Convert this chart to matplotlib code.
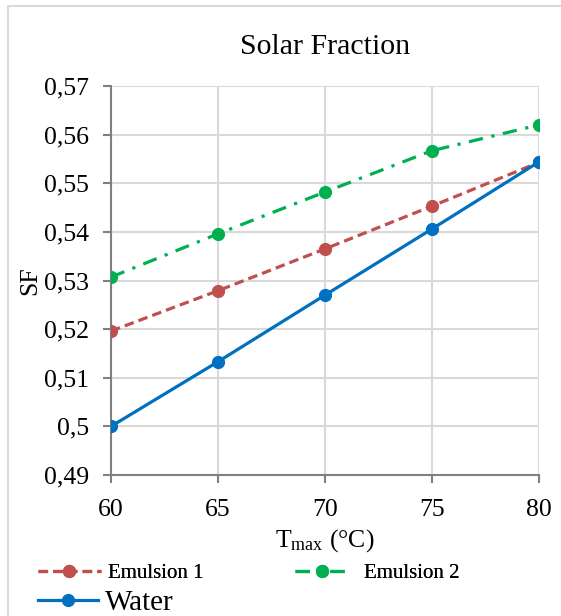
import matplotlib
matplotlib.use("Agg")
import matplotlib.pyplot as plt
from matplotlib.patches import Rectangle
from matplotlib.ticker import FuncFormatter

plt.rcParams['font.family'] = ['Liberation Serif', 'DejaVu Serif']
plt.rcParams['mathtext.fontset'] = 'custom'
plt.rcParams['mathtext.rm'] = 'Liberation Serif'
plt.rcParams['mathtext.it'] = 'Liberation Serif:italic'

t_max = [60, 65, 70, 75, 80]
emulsion1 = [0.5196, 0.5279, 0.5365, 0.5453, 0.5543]
emulsion2 = [0.5307, 0.5396, 0.5482, 0.5567, 0.5620]
water = [0.5000, 0.5133, 0.5270, 0.5406, 0.5544]
y_ticks = [0.49, 0.50, 0.51, 0.52, 0.53, 0.54, 0.55, 0.56, 0.57]
x_ticks = [60, 65, 70, 75, 80]

W, H = 561, 616
fig = plt.figure(figsize=(W / 100, H / 100), dpi=100)
ax = fig.add_axes([111 / W, 1 - 475 / H, (539 - 111) / W, (475 - 86) / H])

# outer chart frame
fig.patches.append(Rectangle((8 / W, -0.05), 1.2, 1 - 6 / H + 0.05, transform=fig.transFigure,
                             fill=False, edgecolor='#D9D9D9', linewidth=1.5, zorder=0))

lw = 2.3
l_e1, = ax.plot(t_max, emulsion1, color='#C0504D', linestyle=(0, (3, 1.6)), linewidth=lw,
                marker='o', markersize=8.5, label='Emulsion 1', zorder=3)
l_w, = ax.plot(t_max, water, color='#0070C0', linestyle='-', linewidth=lw,
               marker='o', markersize=8.5, label='Water', zorder=4)
l_e2, = ax.plot(t_max, emulsion2, color='#00B050', linestyle=(0, (4.5, 2.7, 1, 2.7)), linewidth=lw,
                marker='o', markersize=8.5, label='Emulsion 2', zorder=3)

ax.set_xlim(60, 80)
ax.set_ylim(0.49, 0.57)
ax.set_xticks(x_ticks)
ax.set_yticks(y_ticks)
ax.yaxis.set_major_formatter(FuncFormatter(lambda v, p: ('%g' % round(v, 2)).replace('.', ',')))
ax.grid(True, color='#D9D9D9', linewidth=1.5)
ax.set_axisbelow(True)
for s in ['top', 'right']:
    ax.spines[s].set_visible(False)
for s in ['left', 'bottom']:
    ax.spines[s].set_color('#808080')
    ax.spines[s].set_linewidth(1.5)
ax.tick_params(axis='both', direction='out', length=6, width=1.5, color='#808080',
               labelsize=18.5)
ax.tick_params(axis='y', pad=10)
ax.tick_params(axis='x', pad=11)
ax.set_title('Solar Fraction', fontsize=21.5, pad=23)
ax.set_xlabel(r'T$_{\mathrm{max}}$ (°C)', fontsize=18.5, labelpad=5)
ax.set_ylabel('SF', fontsize=18.5, labelpad=2)

def put_legend(line, x0, yc, fs, hl, htp):
    lg = fig.legend(handles=[line], loc='center left', bbox_to_anchor=(x0 / W, 1 - yc / H),
                    frameon=False, fontsize=fs, handlelength=hl, handletextpad=htp,
                    borderpad=0, borderaxespad=0)
    return lg

lg1 = put_legend(l_e1, 38, 573, 15, 3.0, 0.34)
fig.add_artist(lg1)
lg2 = put_legend(l_e2, 295, 573, 15, 2.55, 0.77)
fig.add_artist(lg2)
lg3 = put_legend(l_w, 38, 603, 21, 2.07, 0.23)

fig.savefig('out.png', dpi=100)
